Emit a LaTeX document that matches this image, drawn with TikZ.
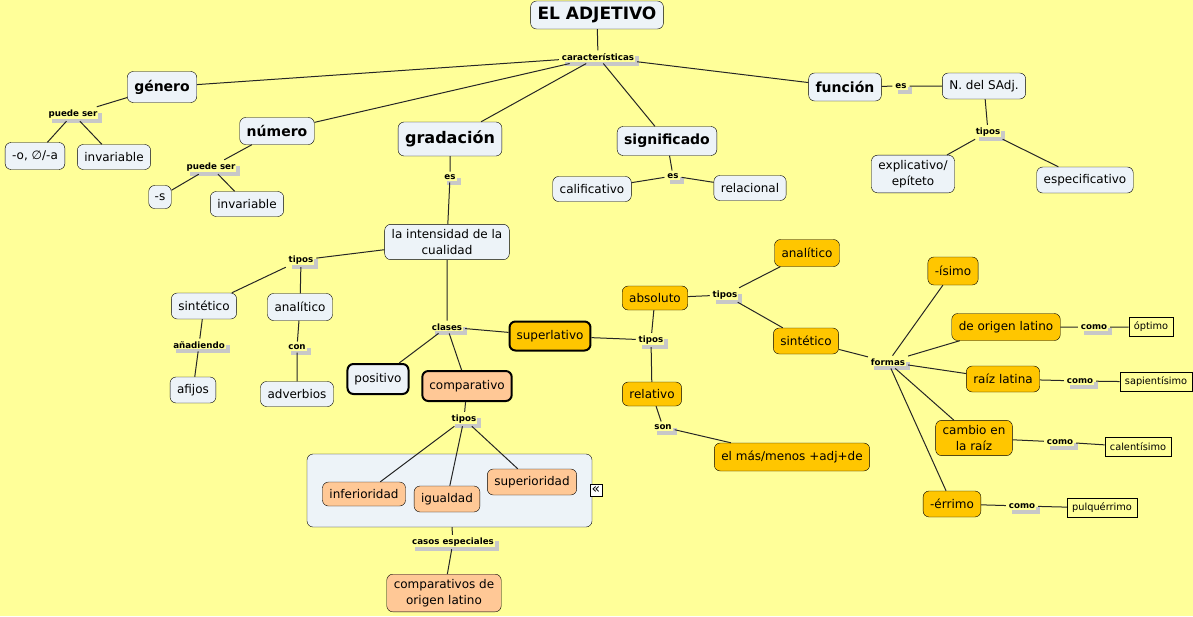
\documentclass[tikz,border=0pt]{standalone}
\usepackage{fontspec}
\setmainfont{DejaVu Sans}
\usepackage{tikz}
\usepackage{xcolor}
\usetikzlibrary{shadows}
\definecolor{bg}{RGB}{255,255,153}
\definecolor{cblue}{RGB}{237,243,248}
\definecolor{cgold}{RGB}{255,198,0}
\definecolor{cpeach}{RGB}{255,200,150}
\definecolor{lgray}{RGB}{200,200,200}

\begin{document}
\begin{tikzpicture}[x=1pt, y=-1pt,
    concept/.style={draw, rounded corners=6pt, fill=cblue, align=center, inner xsep=7pt, inner ysep=5pt, minimum height=25pt, font=\fontsize{12}{16}\selectfont},
    topic/.style={concept, minimum height=29pt, font=\bfseries\fontsize{14}{17}\selectfont},
    strong/.style={line width=2pt},
    lnk/.style={fill=bg, inner sep=1pt, outer sep=2pt, font=\bfseries\fontsize{8.7}{10}\selectfont, drop shadow={shadow xshift=4pt, shadow yshift=-4pt, fill=lgray, opacity=1}},
    ejemplo/.style={draw, fill=bg, inner xsep=5pt, inner ysep=2pt, minimum height=19pt, font=\fontsize{9.8}{11}\selectfont},
    conn/.style={draw=black!85, line width=1pt}]
    \fill[bg] (0,0) rectangle (1193,616);
    \useasboundingbox (0,0) rectangle (1193,616);

    \node[topic, minimum height=28pt, font=\bfseries\fontsize{17}{19}\selectfont] (adj) at (597,15) {EL ADJETIVO};
    \node[lnk] (car) at (598,57) {características};
    \node[topic, minimum height=31pt] (genero) at (162,87) {género};
    \node[topic, minimum height=27pt] (numero) at (277,131) {número};
    \node[topic, minimum height=34pt, font=\bfseries\fontsize{16}{18}\selectfont] (gradacion) at (450,139) {gradación};
    \node[topic] (signif) at (667,141) {significado};
    \node[topic, minimum height=28pt] (funcion) at (845,87) {función};

    \node[lnk] (puedeA) at (73,114) {puede ser};
    \node[concept, minimum height=27pt] (oa) at (35,156) {-o, ∅/-a};
    \node[concept] (invA) at (114,157) {invariable};
    \node[lnk] (puedeB) at (211,167) {puede ser};
    \node[concept, minimum height=23pt, inner xsep=6pt] (ese) at (160,197) {-s};
    \node[concept] (invB) at (247,204) {invariable};

    \node[lnk] (esF) at (901,86) {es};
    \node[concept, minimum height=26pt] (nsadj) at (984,86) {N. del SAdj.};
    \node[lnk] (tiposF) at (988,132) {tipos};
    \node[concept] (explic) at (913,174) {explicativo/\\epíteto};
    \node[concept, minimum height=26pt] (especif) at (1085,180) {especificativo};

    \node[lnk] (esS) at (673,176) {es};
    \node[concept] (calif) at (592,189) {calificativo};
    \node[concept] (relac) at (750,188) {relacional};

    \node[lnk] (esG) at (450,177) {es};
    \node[concept] (intens) at (447,242) {la intensidad de la\\cualidad};
    \node[lnk] (tiposI) at (301,260) {tipos};
    \node[concept, minimum height=26pt] (sint) at (204,306) {sintético};
    \node[concept, minimum height=27pt] (anal) at (300,307) {analítico};
    \node[lnk] (anad) at (199,345) {añadiendo};
    \node[lnk] (con) at (297,347) {con};
    \node[concept, minimum height=26pt] (afijos) at (193,390) {afijos};
    \node[concept] (adverb) at (297,394) {adverbios};

    \node[lnk] (clases) at (447,327) {clases};
    \node[concept, strong, fill=cgold, minimum height=29pt] (superl) at (550,336) {superlativo};
    \node[concept, strong, minimum height=30pt] (posit) at (378,379) {positivo};
    \node[concept, strong, fill=cpeach, minimum height=30pt] (compar) at (467,386) {comparativo};

    \node[lnk] (tiposC) at (464,419) {tipos};
    \node[draw, rounded corners=6pt, fill=cblue, minimum width=285pt, minimum height=73pt] (grupo) at (449.5,490.5) {};
    \node[concept, fill=cpeach, minimum height=24pt] (infer) at (364,494) {inferioridad};
    \node[concept, fill=cpeach, minimum height=26pt] (igual) at (447,499) {igualdad};
    \node[concept, fill=cpeach, minimum height=26pt] (superi) at (532,482) {superioridad};
    \node[draw, fill=white, inner sep=0pt, minimum size=12pt, font=\fontsize{14}{14}\selectfont] (abrir) at (596,490) {«};
    \node[lnk] (casos) at (453,542) {casos especiales};
    \node[concept, fill=cpeach] (compol) at (444,593) {comparativos de\\origen latino};

    \node[lnk] (tiposS) at (651,340) {tipos};
    \node[concept, fill=cgold, minimum height=24pt] (absol) at (655,298) {absoluto};
    \node[concept, fill=cgold, minimum height=24pt] (relat) at (652,394) {relativo};
    \node[lnk] (tiposA) at (725,295) {tipos};
    \node[concept, fill=cgold, minimum height=27pt] (analB) at (807,253) {analítico};
    \node[concept, fill=cgold, minimum height=26pt] (sintB) at (806,341) {sintético};
    \node[lnk] (son) at (663,427) {son};
    \node[concept, fill=cgold, minimum height=28pt] (elmas) at (792,457) {el más/menos +adj+de};

    \node[lnk] (formas) at (888,362) {formas};
    \node[concept, fill=cgold, minimum height=28pt] (isimo) at (953,271) {-ísimo};
    \node[concept, fill=cgold, minimum height=27pt] (origen) at (1006,327) {de origen latino};
    \node[concept, fill=cgold, minimum height=26pt] (raiz) at (1003,379) {raíz latina};
    \node[concept, fill=cgold] (cambio) at (974,438) {cambio en\\la raíz};
    \node[concept, fill=cgold, minimum height=26pt] (errimo) at (952,504) {-érrimo};
    \node[lnk] (comoA) at (1094,327) {como};
    \node[ejemplo] (optimo) at (1151,327) {óptimo};
    \node[lnk] (comoB) at (1080,381) {como};
    \node[ejemplo] (sapien) at (1156,382) {sapientísimo};
    \node[lnk] (comoC) at (1060,442) {como};
    \node[ejemplo] (calent) at (1138,447) {calentísimo};
    \node[lnk] (comoD) at (1022,506) {como};
    \node[ejemplo] (pulq) at (1102,508) {pulquérrimo};

    \draw[conn] (adj) -- (car)
        (car) -- (genero)
        (car) -- (numero)
        (car) -- (gradacion)
        (car) -- (signif)
        (car) -- (funcion);
    \draw[conn] (genero) -- (puedeA)
        (puedeA) -- (oa)
        (puedeA) -- (invA)
        (numero) -- (puedeB)
        (puedeB) -- (ese)
        (puedeB) -- (invB);
    \draw[conn] (funcion) -- (esF)
        (esF) -- (nsadj)
        (nsadj) -- (tiposF)
        (tiposF) -- (explic)
        (tiposF) -- (especif);
    \draw[conn] (signif) -- (esS)
        (esS) -- (calif)
        (esS) -- (relac);
    \draw[conn] (gradacion) -- (esG)
        (esG) -- (intens)
        (intens) -- (tiposI)
        (tiposI) -- (sint)
        (tiposI) -- (anal)
        (sint) -- (anad)
        (anad) -- (afijos)
        (anal) -- (con)
        (con) -- (adverb);
    \draw[conn] (intens) -- (clases)
        (clases) -- (superl)
        (clases) -- (posit)
        (clases) -- (compar);
    \draw[conn] (compar) -- (tiposC)
        (tiposC) -- (infer)
        (tiposC) -- (igual)
        (tiposC) -- (superi)
        (grupo) -- (casos)
        (casos) -- (compol);
    \draw[conn] (superl) -- (tiposS)
        (tiposS) -- (absol)
        (tiposS) -- (relat)
        (absol) -- (tiposA)
        (tiposA) -- (analB)
        (tiposA) -- (sintB)
        (relat) -- (son)
        (son) -- (elmas);
    \draw[conn] (sintB) -- (formas)
        (formas) -- (isimo)
        (formas) -- (origen)
        (formas) -- (raiz)
        (formas) -- (cambio)
        (formas) -- (errimo)
        (origen) -- (comoA)
        (comoA) -- (optimo)
        (raiz) -- (comoB)
        (comoB) -- (sapien)
        (cambio) -- (comoC)
        (comoC) -- (calent)
        (errimo) -- (comoD)
        (comoD) -- (pulq);
\end{tikzpicture}
\end{document}
